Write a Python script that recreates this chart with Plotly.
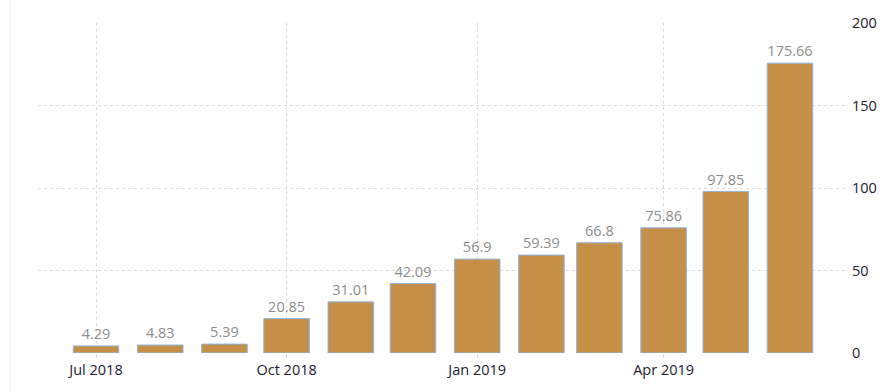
import plotly.graph_objects as go

months = ["2018-07-01", "2018-08-01", "2018-09-01", "2018-10-01", "2018-11-01", "2018-12-01",
          "2019-01-01", "2019-02-01", "2019-03-01", "2019-04-01", "2019-05-01", "2019-06-01"]
values = [4.29, 4.83, 5.39, 20.85, 31.01, 42.09, 56.9, 59.39, 66.8, 75.86, 97.85, 175.66]
labels = ["4.29", "4.83", "5.39", "20.85", "31.01", "42.09", "56.9", "59.39", "66.8", "75.86", "97.85", "175.66"]
tick_dates = ["2018-07-01", "2018-10-01", "2019-01-01", "2019-04-01"]
tick_text = ["Jul 2018", "Oct 2018", "Jan 2019", "Apr 2019"]
y_ticks = [0, 50, 100, 150, 200]

FONT = "Open Sans, Noto Sans, DejaVu Sans, sans-serif"
DAY = 86400000

fig = go.Figure()
fig.add_trace(go.Bar(
    x=months, y=values,
    width=[22 * DAY] * len(months),
    marker=dict(color="#C68F48", line=dict(color="#8DB6E3", width=1)),
    text=labels, textposition="outside",
    textfont=dict(family=FONT, size=14.5, color="#8C8C8C"),
    cliponaxis=False,
))

fig.update_layout(
    width=890, height=392,
    margin=dict(l=38, r=42, t=23, b=39),
    paper_bgcolor="white", plot_bgcolor="white",
    showlegend=False,
    font=dict(family=FONT, size=14.5, color="#221A2E"),
    xaxis=dict(
        type="date",
        range=["2018-06-03", "2019-06-29"],
        tickvals=tick_dates, ticktext=tick_text,
        showgrid=True, gridcolor="#DADADA", griddash="dot", gridwidth=1,
        ticks="outside", ticklen=4, tickcolor="#DADADA",
        showline=False, zeroline=False,
        tickfont=dict(family=FONT, size=14.5, color="#221A2E"),
    ),
    yaxis=dict(
        side="right", range=[0, 200], tickvals=y_ticks,
        showgrid=True, gridcolor="#DADADA", griddash="dot", gridwidth=1,
        zeroline=False, showline=False, ticks="", ticklabelstandoff=3,
        tickfont=dict(family=FONT, size=14.5, color="#221A2E"),
    ),
    shapes=[dict(type="line", xref="paper", yref="paper",
                 x0=-0.0346, x1=-0.0346, y0=-0.12, y1=1.08,
                 line=dict(color="#F0F0F0", width=1))],
)

fig.write_html("out.html", config={"displayModeBar": False},
               post_script="document.body.style.margin='0';document.body.style.overflow='hidden';")
